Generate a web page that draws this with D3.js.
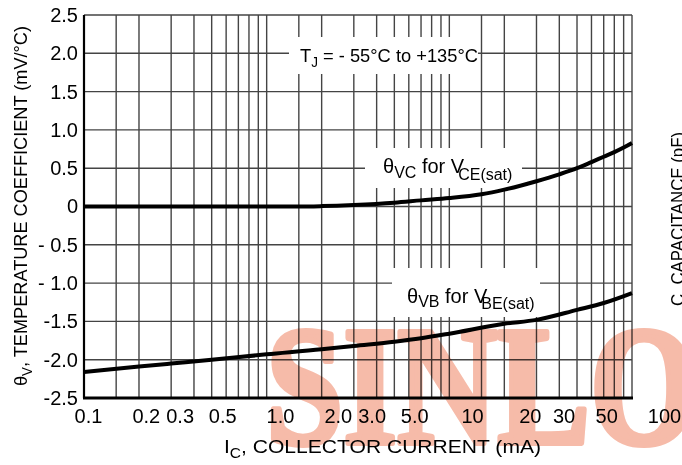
<!DOCTYPE html>
<html>
<head>
<meta charset="utf-8">
<script src="https://cdn.jsdelivr.net/npm/d3@7"></script>
<style>
  body { margin: 0; background: #fff; }
  svg { display: block; font-family: "Liberation Sans", Arial, sans-serif; }
</style>
</head>
<body>
<div class="chart-container"></div>
<script>
//! DATA
const X_TICKS = [0.1, 0.2, 0.3, 0.5, 1, 2, 3, 5, 10, 20, 30, 50, 100];
const X_TICK_LABELS = ['0.1', '0.2', '0.3', '0.5', '1.0', '2.0', '3.0', '5.0', '10', '20', '30', '50', '100'];
const X_GRID = [0.15, 0.2, 0.3, 0.4, 0.5, 0.6, 0.7, 0.8, 0.9,
                1, 1.5, 2, 3, 4, 5, 6, 7, 8, 9,
                10, 15, 20, 30, 40, 50, 60, 70, 80, 90, 100];
const Y_TICKS = [2.5, 2.0, 1.5, 1.0, 0.5, 0, -0.5, -1.0, -1.5, -2.0, -2.5];
const Y_TICK_LABELS = ['2.5', '2.0', '1.5', '1.0', '0.5', '0', '- 0.5', '- 1.0', '-1.5', '-2.0', '-2.5'];

// theta VC for VCE(sat)
const VC_I = [0.1, 0.5, 1, 1.5, 2, 3, 5, 7, 10, 15, 20, 30, 40, 50, 60, 70, 80, 90, 100];
const VC_V = [0, 0, 0, 0, 0.005, 0.02, 0.05, 0.08, 0.11, 0.16, 0.22, 0.33, 0.42, 0.5, 0.58, 0.65, 0.71, 0.77, 0.83];
// theta VB for VBE(sat)
const VB_I = [0.1, 0.2, 0.3, 0.5, 1, 2, 3, 5, 7, 10, 20, 30, 50, 70, 100];
const VB_V = [-2.16, -2.09, -2.05, -2.0, -1.93, -1.865, -1.82, -1.765, -1.72, -1.66, -1.53, -1.48, -1.35, -1.26, -1.13];

//! CONSTS
const WIDTH = 682;
const HEIGHT = 465;
const GRID = '#444';

const svg = d3.select('.chart-container')
  .append('svg')
  .attr('width', WIDTH)
  .attr('height', HEIGHT);

//! SCALES
const x = d3.scaleLog().domain([0.1, 100]).range([84, 632]);
// the printed tick labels sit slightly off the grid in the original sheet
const xLabel = d3.scaleLog().domain([0.1, 100]).range([88, 664]);
const y = d3.scaleLinear().domain([-2.5, 2.5]).range([398, 15]);

// grid
svg.append('g')
  .selectAll('line.h')
  .data(Y_TICKS)
  .enter()
  .append('line')
  .attr('x1', x(0.1)).attr('x2', x(100))
  .attr('y1', d => y(d)).attr('y2', d => y(d))
  .attr('stroke', GRID).attr('stroke-width', 1.4);

svg.append('g')
  .selectAll('line.v')
  .data(X_GRID)
  .enter()
  .append('line')
  .attr('x1', d => x(d)).attr('x2', d => x(d))
  .attr('y1', y(2.5)).attr('y2', y(-2.5))
  .attr('stroke', GRID).attr('stroke-width', 1.4);

// white boxes behind the annotations
const boxes = [
  [289, 37, 189, 37],
  [365, 148, 157, 40],
  [392, 268, 148, 49]
];
svg.append('g')
  .selectAll('rect')
  .data(boxes)
  .enter()
  .append('rect')
  .attr('x', d => d[0]).attr('y', d => d[1])
  .attr('width', d => d[2]).attr('height', d => d[3])
  .attr('fill', '#fff');

// curves
const line = d3.line()
  .x(d => x(d[0]))
  .y(d => y(d[1]))
  .curve(d3.curveMonotoneX);

svg.append('path')
  .datum(VC_I.map((d, i) => [d, VC_V[i]]))
  .attr('d', line)
  .attr('fill', 'none').attr('stroke', '#000').attr('stroke-width', 4);

svg.append('path')
  .datum(VB_I.map((d, i) => [d, VB_V[i]]))
  .attr('d', line)
  .attr('fill', 'none').attr('stroke', '#000').attr('stroke-width', 4);

// frame
svg.append('line')
  .attr('x1', x(0.1)).attr('x2', x(0.1))
  .attr('y1', y(2.5)).attr('y2', y(-2.5))
  .attr('stroke', '#000').attr('stroke-width', 2.2);
svg.append('line')
  .attr('x1', x(0.1) - 1).attr('x2', x(100) + 1)
  .attr('y1', y(-2.5)).attr('y2', y(-2.5))
  .attr('stroke', '#000').attr('stroke-width', 3);

// axes
const xAxis = svg.append('g')
  .attr('transform', `translate(0,${y(-2.5)})`)
  .call(d3.axisBottom(xLabel)
    .tickValues(X_TICKS)
    .tickFormat((d, i) => X_TICK_LABELS[i])
    .tickSize(0)
    .tickPadding(11));
xAxis.select('.domain').remove();
xAxis.selectAll('text')
  .attr('font-size', 20).attr('font-family', '"Liberation Sans", Arial, sans-serif').attr('fill', '#000');

const yAxis = svg.append('g')
  .attr('transform', `translate(${x(0.1)},0)`)
  .call(d3.axisLeft(y)
    .tickValues(Y_TICKS)
    .tickFormat((d, i) => Y_TICK_LABELS[i])
    .tickSize(0)
    .tickPadding(6));
yAxis.select('.domain').remove();
yAxis.selectAll('text')
  .attr('font-size', 20).attr('font-family', '"Liberation Sans", Arial, sans-serif').attr('fill', '#000');

// annotations
const tj = svg.append('text')
  .attr('x', 300).attr('y', 62)
  .attr('font-size', 19)
  .attr('textLength', 178).attr('lengthAdjust', 'spacingAndGlyphs');
tj.append('tspan').text('T');
tj.append('tspan').attr('font-size', 14).attr('dy', 5).text('J');
tj.append('tspan').attr('dy', -5).text(' = - 55°C to +135°C');

const vc = svg.append('text')
  .attr('x', 383).attr('y', 173)
  .attr('font-size', 20);
vc.append('tspan').text('θ');
vc.append('tspan').attr('font-size', 16).attr('dy', 5).text('VC');
vc.append('tspan').attr('dy', -5).text(' for V');
vc.append('tspan').attr('font-size', 16).attr('dy', 7).attr('dx', -6).text('CE(sat)');

const vb = svg.append('text')
  .attr('x', 407).attr('y', 303)
  .attr('font-size', 20);
vb.append('tspan').text('θ');
vb.append('tspan').attr('font-size', 16).attr('dy', 4).text('VB');
vb.append('tspan').attr('dy', -4).text(' for V');
vb.append('tspan').attr('font-size', 16).attr('dy', 6).attr('dx', -6).text('BE(sat)');

// axis titles
const xt = svg.append('text')
  .attr('x', 224).attr('y', 453)
  .attr('font-size', 19)
  .attr('textLength', 317).attr('lengthAdjust', 'spacingAndGlyphs');
xt.append('tspan').text('I');
xt.append('tspan').attr('font-size', 14).attr('dy', 5).text('C');
xt.append('tspan').attr('dy', -5).text(', COLLECTOR CURRENT (mA)');

const yt = svg.append('text')
  .attr('transform', 'translate(27,386) rotate(-90)')
  .attr('font-size', 19)
  .attr('textLength', 360).attr('lengthAdjust', 'spacingAndGlyphs');
yt.append('tspan').text('θ');
yt.append('tspan').attr('font-size', 14).attr('dy', 5).text('V');
yt.append('tspan').attr('dy', -5).text(', TEMPERATURE COEFFICIENT (mV/°C)');

// neighbouring chart's axis title, cut by the page edge
svg.append('text')
  .attr('transform', 'translate(684,306) rotate(-90)')
  .attr('font-size', 19)
  .attr('textLength', 174).attr('lengthAdjust', 'spacingAndGlyphs')
  .text('C, CAPACITANCE (pF)');

// watermark
svg.append('text')
  .attr('x', 266).attr('y', 443)
  .attr('font-family', '"Liberation Serif", "DejaVu Serif", serif')
  .attr('font-weight', 'bold')
  .attr('font-size', 169)
  .attr('textLength', 432).attr('lengthAdjust', 'spacingAndGlyphs')
  .attr('fill', '#f6bba9')
  .attr('stroke', '#f6bba9')
  .attr('stroke-width', 6)
  .attr('stroke-linejoin', 'round')
  .style('mix-blend-mode', 'multiply')
  .text('SINLO');
</script>
</body>
</html>
